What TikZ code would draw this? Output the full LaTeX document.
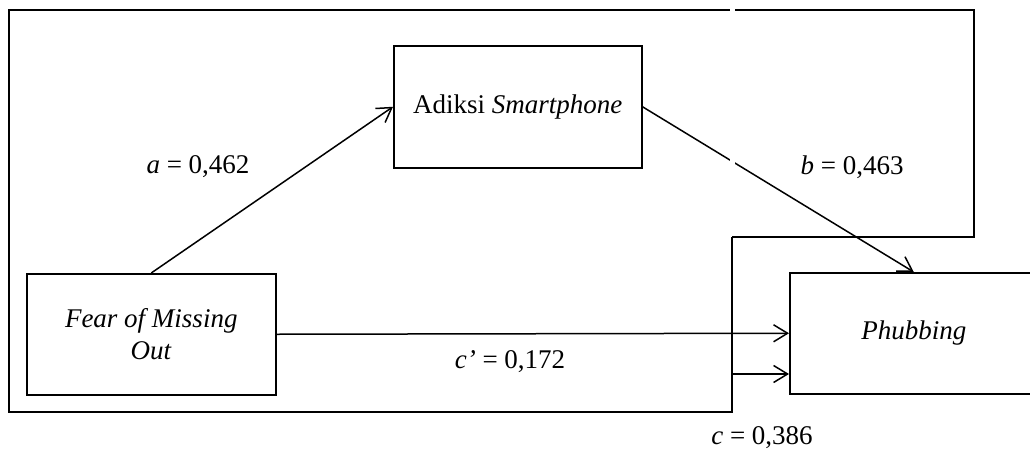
\documentclass[tikz,border=0pt]{standalone}
\usepackage{fontspec}
\setmainfont{Liberation Serif}
\usetikzlibrary{arrows.meta}
\begin{document}
\begin{tikzpicture}[x=1pt,y=-1pt,
  txt/.style={font=\fontsize{27}{32}\selectfont},
  box/.style={txt,draw,line width=1.5pt,inner sep=0pt,anchor=north west,align=center},
  lbl/.style={txt,inner sep=0pt},
  link/.style={line width=1.5pt,-{Straight Barb[length=14pt,width=17pt,line width=1.5pt]}},
  frame/.style={line width=1.5pt}]
\useasboundingbox (0,0) rectangle (1030,450);

% variables
\node[box,minimum width=249pt,minimum height=121pt] (fomo) at (26,273)
  {\textit{Fear of Missing}\\\textit{Out}};
\node[box,minimum width=248pt,minimum height=122pt] (adiksi) at (393,45)
  {Adiksi \textit{Smartphone}};
\node[box,minimum width=248pt,minimum height=121pt] (phub) at (789,272)
  {\textit{Phubbing}};

% total-effect frame
\coordinate (cin) at (732,374);
\draw[frame] (732,237) -- (974,237) -- (974,10) -- (9,10) -- (9,412)
  -- (732,412) -- (732,237);
\draw[link] (cin) -- (cin -| phub.west);

% paths through the mediator and the direct path
\draw[link] (fomo.north) -- (adiksi.west);
\draw[link] (adiksi.east) -- (phub.north);
\draw[link] (fomo.east) -- (phub.west);

% break where the frame's upper part crosses
\draw[white,line width=5pt] (732.5,4) -- (732.5,16);
\draw[white,line width=5pt] (732.5,152) -- (732.5,174);

% coefficients
\node[lbl] (la) at (198,167) {\textit{a} = 0,462};
\node[lbl] (lb) at (852,167) {\textit{b} = 0,463};
\node[lbl] (lcp) at (510,362) {\textit{c'} = 0,172};
\node[lbl] (lc) at (762,438) {\textit{c} = 0,386};
\end{tikzpicture}
\end{document}
